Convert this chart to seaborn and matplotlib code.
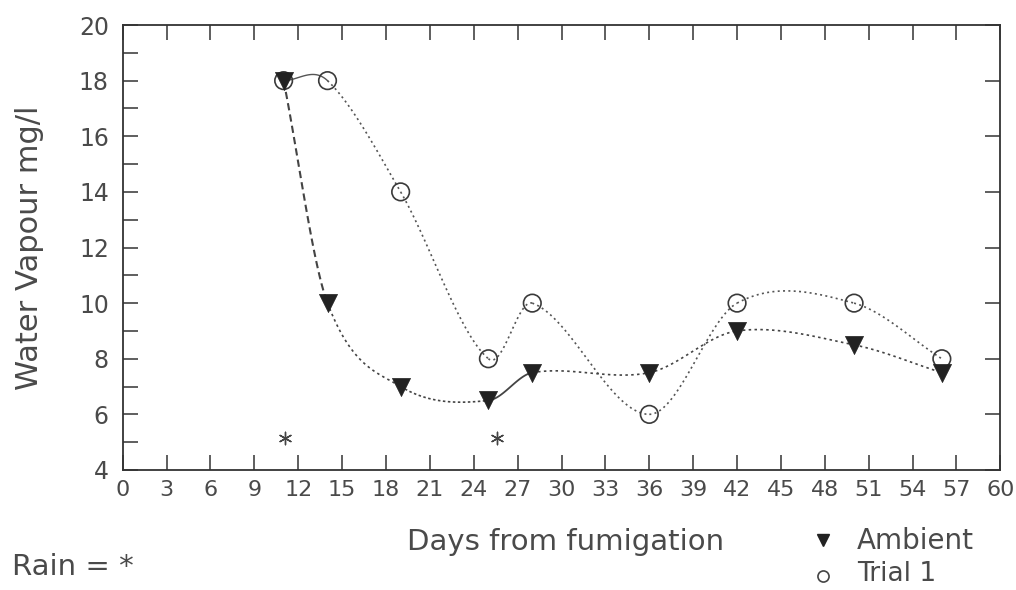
import numpy as np
import matplotlib
matplotlib.use("Agg")
import matplotlib.pyplot as plt
from matplotlib.lines import Line2D
from matplotlib.ticker import MultipleLocator
import seaborn as sns

# ---- data ----
days = [11, 14, 19, 25, 28, 36, 42, 50, 56]
ambient = [18, 10, 7, 6.5, 7.5, 7.5, 9, 8.5, 7.5]
trial1 = [18, 18, 14, 8, 10, 6, 10, 10, 8]
rain_days = [11.1, 25.6]
rain_mark_y = 5.15
x_ticks = list(range(0, 61, 3))
y_ticks = list(range(4, 21, 2))

# per-segment line styles (segment i joins point i and i+1)
amb_styles = [(0, (3.5, 2)), (0, (1.5, 2)), (0, (1.5, 1.5)), '-', (0, (1.5, 2)),
              (0, (1.5, 2)), (0, (1.5, 2)), (0, (1.5, 2))]
tri_styles = ['-'] + [(0, (1.2, 2))] * 7
amb_lw = [1.5, 1.2, 1.2, 1.3, 1.2, 1.2, 1.2, 1.2]
tri_lw = [1.0] + [1.2] * 7

sns.set_theme(style="ticks")
plt.rcParams['font.family'] = ['DejaVu Sans']
TXT = '#4a4a4a'
LN = '#555555'


def hermite_segments(x, y, n=40):
    """Smooth (Catmull-Rom style) curve pieces through the data points."""
    x = np.asarray(x, float)
    y = np.asarray(y, float)
    m = np.zeros_like(y)
    m[1:-1] = (y[2:] - y[:-2]) / (x[2:] - x[:-2])
    m[0] = (y[1] - y[0]) / (x[1] - x[0])
    m[-1] = (y[-1] - y[-2]) / (x[-1] - x[-2])
    segs = []
    for i in range(len(x) - 1):
        h = x[i + 1] - x[i]
        t = np.linspace(0, 1, n)
        h00 = 2 * t**3 - 3 * t**2 + 1
        h10 = t**3 - 2 * t**2 + t
        h01 = -2 * t**3 + 3 * t**2
        h11 = t**3 - t**2
        ys = h00 * y[i] + h10 * h * m[i] + h01 * y[i + 1] + h11 * h * m[i + 1]
        xs = x[i] + t * h
        segs.append((xs, ys))
    return segs


fig = plt.figure(figsize=(10.16, 5.90), dpi=100)
ax = fig.add_axes([0.1208, 0.2034, 0.8638, 0.7542])

for (xs, ys), ls, lw in zip(hermite_segments(days, trial1), tri_styles, tri_lw):
    sns.lineplot(x=xs, y=ys, ax=ax, color=LN, linestyle=ls, linewidth=lw,
                 sort=False, estimator=None, zorder=2)
for (xs, ys), ls, lw in zip(hermite_segments(days, ambient), amb_styles, amb_lw):
    sns.lineplot(x=xs, y=ys, ax=ax, color='#444444', linestyle=ls, linewidth=lw,
                 sort=False, estimator=None, zorder=2)

sns.scatterplot(x=days, y=trial1, ax=ax, marker='o', s=160,
                facecolors='none', edgecolor='#3a3a3a', linewidth=1.2, zorder=3)
sns.scatterplot(x=days, y=ambient, ax=ax, marker='v', s=170,
                color='#222222', edgecolor='#222222', linewidth=0.5, zorder=4)
sns.scatterplot(x=rain_days, y=[rain_mark_y] * len(rain_days), ax=ax,
                marker=(6, 2, 0), s=80, color='#444444', edgecolor='#444444',
                linewidth=1.0, zorder=3)

ax.set_xlim(0, 60)
ax.set_ylim(4, 20)
ax.set_xticks(x_ticks)
ax.set_xticklabels([str(v) for v in x_ticks])
ax.set_yticks(y_ticks)
ax.set_yticklabels([str(v) for v in y_ticks])
ax.yaxis.set_minor_locator(MultipleLocator(1))

for sp in ax.spines.values():
    sp.set_visible(True)
    sp.set_color('#333333')
    sp.set_linewidth(1.3)

ax.tick_params(axis='both', which='major', direction='in', length=11, width=1.1,
               color='#333333', labelcolor=TXT)
ax.tick_params(axis='x', which='major', top=True, bottom=True, pad=7, labelsize=16)
ax.tick_params(axis='y', which='major', left=True, right=True, pad=10, labelsize=17)
ax.tick_params(axis='y', which='minor', direction='in', length=11, width=1.1,
               color='#333333', left=True, right=False)
ax.tick_params(axis='x', which='minor', bottom=False, top=False)

ax.set_xlabel('Days from fumigation', fontsize=21, color=TXT)
ax.xaxis.set_label_coords(0.505, -0.162)
ax.xaxis.label.set_va('center')
ax.set_ylabel('Water Vapour mg/l', fontsize=22, color=TXT)
ax.yaxis.set_label_coords(-0.106, 0.50)
ax.yaxis.label.set_va('center')

# legend / notes drawn in figure coordinates
fig.text(12 / 1016, 1 - 567 / 590, 'Rain = *', fontsize=21, color=TXT,
         ha='left', va='center')
fig.text(857 / 1016, 1 - 541 / 590, 'Ambient', fontsize=20, color=TXT,
         ha='left', va='center')
fig.text(857 / 1016, 1 - 574 / 590, 'Trial 1', fontsize=19, color=TXT,
         ha='left', va='center')
fig.add_artist(Line2D([823 / 1016], [1 - 540 / 590], transform=fig.transFigure,
                      marker='v', markersize=9, color='#222222', linestyle='none'))
fig.add_artist(Line2D([823 / 1016], [1 - 576 / 590], transform=fig.transFigure,
                      marker='o', markersize=8, markerfacecolor='none',
                      markeredgecolor='#444444', markeredgewidth=1.2, linestyle='none'))

fig.savefig('out.png', dpi=100, facecolor='white')
